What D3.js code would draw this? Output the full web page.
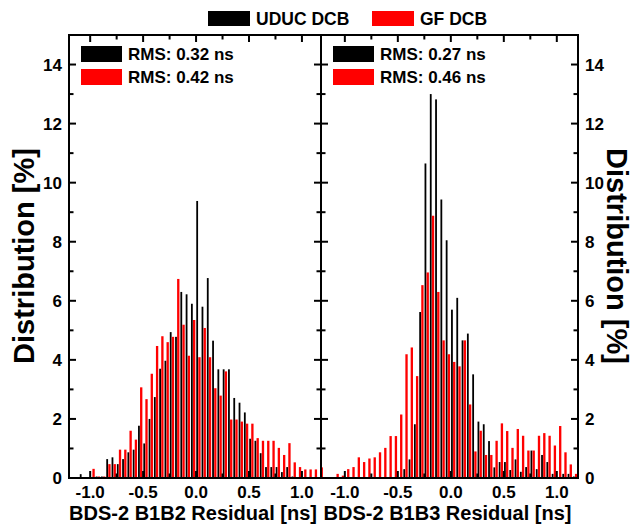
<!DOCTYPE html>
<html>
<head>
    <meta charset="utf-8">
    <title>DCB residual distribution</title>
    <script src="https://cdn.jsdelivr.net/npm/d3@7"></script>
    <style>
        body { margin: 0; background: #fff; }
        text { font-family: "Liberation Sans", Arial, sans-serif; font-weight: bold; fill: #000; }
    </style>
</head>
<body>
<script>
// bin width of both histograms [ns]
var binWidth = 0.05;

// B1B2 panel: first bin starts at -1.2 ns
var b1b2Start = -1.2;
var b1b2Uduc = [0, 0, 0.13, 0, 0, 0.05, 0.05, 0.64, 0.70, 0.47, 0.64, 0.87, 0.96, 1.77, 1.17, 2.0,
    2.74, 3.7, 3.97, 4.94, 4.78, 6.3, 6.22, 5.9, 9.38, 5.8, 6.77, 4.65, 3.68, 3.68, 3.68, 2.71,
    2.55, 2.22, 1.33, 1.26, 0.84, 0.37, 0.37, 0.37, 0.2, 0.37, 0.05, 0, 0, 0, 0, 0];
var b1b2Gf = [0, 0, 0, 0, 0.31, 0.05, 0.05, 0.47, 0.47, 0.96, 0.96, 1.6, 1.3, 3.07, 2.67, 3.53,
    4.47, 4.8, 4.6, 4.78, 6.74, 5.19, 4.14, 5.35, 4.09, 5.08, 4.09, 3.04, 2.79, 3.61, 1.98, 1.98,
    1.91, 1.84, 1.84, 1.35, 1.26, 1.26, 1.26, 1.02, 0.78, 1.18, 0.53, 0.37, 0.29, 0.29, 0.29, 0.37];

// B1B3 panel: first bin starts at -1.25 ns
var b1b3Start = -1.25;
var b1b3Uduc = [0, 0, 0, 0, 0, 0, 0, 0, 0, 0, 0, 0, 0, 0, 0, 0,
    0.3, 0.63, 1.82, 5.62, 10.65, 13.0, 12.82, 9.43, 8.05, 5.7, 6.1, 4.66, 4.89, 3.51, 1.91, 1.82,
    1.25, 0.36, 0.54, 0.54, 0.27, 0.63, 0.21, 0.37, 0.93, 0.3, 0.78, 0.54, 0.14, 0, 0.14, 0.14, 0.05];
var b1b3Gf = [0.36, 0, 0, 0.14, 0.08, 0.3, 0.37, 0.7, 0.54, 0.66, 0.7, 0.87, 1.02, 1.42, 1.42, 2.15,
    4.19, 4.42, 3.45, 6.53, 6.96, 8.88, 6.3, 4.66, 4.19, 3.93, 3.78, 4.66, 2.49, 0.9, 1.6, 0.78,
    0.78, 1.26, 1.85, 1.59, 1.02, 1.66, 1.43, 0.93, 0.93, 1.43, 1.52, 1.43, 1.1, 1.76, 0.87, 0.46, 0.14];

var seriesNames = ['UDUC DCB', 'GF DCB'];
var seriesColors = ['#000000', '#ff0000'];
var rmsB1b2 = ['RMS: 0.32 ns', 'RMS: 0.42 ns'];
var rmsB1b3 = ['RMS: 0.27 ns', 'RMS: 0.46 ns'];
var xLabelTicks = [-1.0, -0.5, 0.0, 0.5, 1.0];
var xMinorTicks = [-1.0, -0.75, -0.5, -0.25, 0, 0.25, 0.5, 0.75, 1.0];
var yLabelTicks = [0, 2, 4, 6, 8, 10, 12, 14];
var yMinorTicks = d3.range(0, 16, 1);

var width = 632,
    height = 526;
var plotTop = 35,
    plotBottom = 478;

var svg = d3.select('body').append('svg')
    .attr('width', width)
    .attr('height', height);

var y = d3.scaleLinear().domain([0, 15]).range([plotBottom, plotTop]);

var panels = [
    { id: 'b1b2', left: 69, right: 321, domain: [-1.2, 1.18], start: b1b2Start,
      data: [b1b2Uduc, b1b2Gf], rms: rmsB1b2, label: 'BDS-2 B1B2 Residual [ns]', side: 'left' },
    { id: 'b1b3', left: 321, right: 578, domain: [-1.225, 1.2], start: b1b3Start,
      data: [b1b3Uduc, b1b3Gf], rms: rmsB1b3, label: 'BDS-2 B1B3 Residual [ns]', side: 'right' }
];

panels.forEach(function(p) {
    var x = d3.scaleLinear().domain(p.domain).range([p.left, p.right]);
    var g = svg.append('g');

    g.append('clipPath').attr('id', 'clip-' + p.id)
        .append('rect')
        .attr('x', p.left).attr('y', plotTop)
        .attr('width', p.right - p.left).attr('height', plotBottom - plotTop);

    // bars: black in the left part of the bin, red next to it
    var bars = g.append('g').attr('clip-path', 'url(#clip-' + p.id + ')');
    p.data.forEach(function(values, s) {
        bars.selectAll('.bar' + s)
            .data(values)
            .enter().append('rect')
            .attr('x', function(d, i) {
                var lo = p.start + i * binWidth;
                return s === 0 ? x(lo + binWidth * 0.04) : x(lo + binWidth * 0.42);
            })
            .attr('width', function(d, i) {
                var lo = p.start + i * binWidth;
                return s === 0 ? x(lo + binWidth * 0.38) - x(lo + binWidth * 0.04)
                               : x(lo + binWidth * 0.86) - x(lo + binWidth * 0.42);
            })
            .attr('y', function(d) { return y(d); })
            .attr('height', function(d) { return plotBottom - y(d); })
            .attr('fill', seriesColors[s]);
    });

    // frame
    g.append('rect')
        .attr('x', p.left).attr('y', plotTop)
        .attr('width', p.right - p.left).attr('height', plotBottom - plotTop)
        .attr('fill', 'none').attr('stroke', '#000').attr('stroke-width', 2);

    // inward ticks on all four sides
    var tickG = g.append('g').attr('stroke', '#000').attr('stroke-width', 2);
    xMinorTicks.forEach(function(t) {
        var len = (Math.abs(t * 2 - Math.round(t * 2)) < 1e-6) ? 7 : 4.5;
        tickG.append('line').attr('x1', x(t)).attr('x2', x(t))
            .attr('y1', plotBottom).attr('y2', plotBottom - len);
        tickG.append('line').attr('x1', x(t)).attr('x2', x(t))
            .attr('y1', plotTop).attr('y2', plotTop + len);
    });
    yMinorTicks.forEach(function(t) {
        var len = (t % 2 === 0) ? 7 : 4.5;
        tickG.append('line').attr('x1', p.left).attr('x2', p.left + len)
            .attr('y1', y(t)).attr('y2', y(t));
        tickG.append('line').attr('x1', p.right).attr('x2', p.right - len)
            .attr('y1', y(t)).attr('y2', y(t));
    });

    // x tick labels
    g.selectAll('.xl')
        .data(xLabelTicks)
        .enter().append('text')
        .attr('x', function(d) { return x(d); })
        .attr('y', 498)
        .attr('text-anchor', 'middle')
        .style('font-size', '17px')
        .text(function(d) { return d3.format('.1f')(d).replace('\u2212', '-'); });

    // x axis title
    g.append('text')
        .attr('x', (p.left + p.right) / 2 - 2)
        .attr('y', 520)
        .attr('text-anchor', 'middle')
        .style('font-size', '20px')
        .text(p.label);

    // y tick labels and title, outside of the outer side
    var yl = g.selectAll('.yl')
        .data(yLabelTicks)
        .enter().append('text')
        .attr('y', function(d) { return y(d); })
        .attr('dy', '0.36em')
        .style('font-size', '17px')
        .text(function(d) { return d; });
    if (p.side === 'left') {
        yl.attr('x', p.left - 7).attr('text-anchor', 'end');
        g.append('text')
            .attr('transform', 'translate(34,256) rotate(-90)')
            .attr('text-anchor', 'middle')
            .style('font-size', '29px')
            .text('Distribution [%]');
    } else {
        yl.attr('x', p.right + 7).attr('text-anchor', 'start');
        g.append('text')
            .attr('transform', 'translate(607,256) rotate(90)')
            .attr('text-anchor', 'middle')
            .style('font-size', '29px')
            .text('Distribution [%]');
    }

    // RMS legend inside the panel
    p.rms.forEach(function(txt, s) {
        g.append('rect')
            .attr('x', p.left + 12).attr('y', 46 + s * 23)
            .attr('width', 41).attr('height', 16)
            .attr('fill', seriesColors[s]);
        g.append('text')
            .attr('x', p.left + 59).attr('y', 60 + s * 23)
            .style('font-size', '17px')
            .text(txt);
    });
});

// series legend on top
var legend = svg.append('g');
var legendX = [208, 372];
seriesNames.forEach(function(name, s) {
    legend.append('rect')
        .attr('x', legendX[s]).attr('y', 11)
        .attr('width', 42).attr('height', 15)
        .attr('fill', seriesColors[s]);
    legend.append('text')
        .attr('x', legendX[s] + 48).attr('y', 25)
        .style('font-size', '17.5px')
        .text(name);
});
</script>
</body>
</html>
